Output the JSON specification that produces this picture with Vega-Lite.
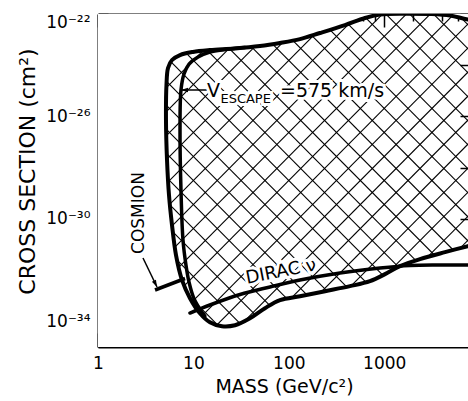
{
  "$schema": "https://vega.github.io/schema/vega-lite/v6.json",
  "width": 372,
  "height": 333,
  "autosize": {"type": "none"},
  "padding": {"left": 98, "top": 14, "right": 0, "bottom": 54},
  "background": "white",
  "config": {
    "view": {"stroke": null},
    "font": "DejaVu Sans",
    "axis": {"domainColor": "black", "domainWidth": 2, "tickColor": "black", "tickWidth": 1.5, "labelColor": "black", "titleColor": "black", "titleFontWeight": "normal", "grid": false, "zindex": 1, "labelOverlap": false, "labelBound": false, "labelFont": "DejaVu Sans", "titleFont": "DejaVu Sans"}
  },
  "resolve": {"axis": {"x": "independent", "y": "independent"}},
  "datasets": {
    "hatch": [
      {"m": 0.001, "m2": 10, "s": 1e-21, "s2": 1e-36},
      {"m": 0.0017783, "m2": 17.783, "s": 1e-21, "s2": 1e-36},
      {"m": 0.0031623, "m2": 31.623, "s": 1e-21, "s2": 1e-36},
      {"m": 0.0056234, "m2": 56.234, "s": 1e-21, "s2": 1e-36},
      {"m": 0.01, "m2": 100, "s": 1e-21, "s2": 1e-36},
      {"m": 0.017783, "m2": 177.83, "s": 1e-21, "s2": 1e-36},
      {"m": 0.031623, "m2": 316.23, "s": 1e-21, "s2": 1e-36},
      {"m": 0.056234, "m2": 562.34, "s": 1e-21, "s2": 1e-36},
      {"m": 0.1, "m2": 1000, "s": 1e-21, "s2": 1e-36},
      {"m": 0.17783, "m2": 1778.3, "s": 1e-21, "s2": 1e-36},
      {"m": 0.31623, "m2": 3162.3, "s": 1e-21, "s2": 1e-36},
      {"m": 0.56234, "m2": 5623.4, "s": 1e-21, "s2": 1e-36},
      {"m": 1, "m2": 10000, "s": 1e-21, "s2": 1e-36},
      {"m": 1.7783, "m2": 17783, "s": 1e-21, "s2": 1e-36},
      {"m": 3.1623, "m2": 31623, "s": 1e-21, "s2": 1e-36},
      {"m": 5.6234, "m2": 56234, "s": 1e-21, "s2": 1e-36},
      {"m": 10, "m2": 100000, "s": 1e-21, "s2": 1e-36},
      {"m": 17.783, "m2": 177830, "s": 1e-21, "s2": 1e-36},
      {"m": 31.623, "m2": 316230, "s": 1e-21, "s2": 1e-36},
      {"m": 56.234, "m2": 562340, "s": 1e-21, "s2": 1e-36},
      {"m": 100, "m2": 1000000, "s": 1e-21, "s2": 1e-36},
      {"m": 177.83, "m2": 1778300, "s": 1e-21, "s2": 1e-36},
      {"m": 316.23, "m2": 3162300, "s": 1e-21, "s2": 1e-36},
      {"m": 562.34, "m2": 5623400, "s": 1e-21, "s2": 1e-36},
      {"m": 1000, "m2": 10000000, "s": 1e-21, "s2": 1e-36},
      {"m": 1778.3, "m2": 17783000, "s": 1e-21, "s2": 1e-36},
      {"m": 3162.3, "m2": 31623000, "s": 1e-21, "s2": 1e-36},
      {"m": 0.001, "m2": 10, "s": 1e-36, "s2": 1e-21},
      {"m": 0.0017783, "m2": 17.783, "s": 1e-36, "s2": 1e-21},
      {"m": 0.0031623, "m2": 31.623, "s": 1e-36, "s2": 1e-21},
      {"m": 0.0056234, "m2": 56.234, "s": 1e-36, "s2": 1e-21},
      {"m": 0.01, "m2": 100, "s": 1e-36, "s2": 1e-21},
      {"m": 0.017783, "m2": 177.83, "s": 1e-36, "s2": 1e-21},
      {"m": 0.031623, "m2": 316.23, "s": 1e-36, "s2": 1e-21},
      {"m": 0.056234, "m2": 562.34, "s": 1e-36, "s2": 1e-21},
      {"m": 0.1, "m2": 1000, "s": 1e-36, "s2": 1e-21},
      {"m": 0.17783, "m2": 1778.3, "s": 1e-36, "s2": 1e-21},
      {"m": 0.31623, "m2": 3162.3, "s": 1e-36, "s2": 1e-21},
      {"m": 0.56234, "m2": 5623.4, "s": 1e-36, "s2": 1e-21},
      {"m": 1, "m2": 10000, "s": 1e-36, "s2": 1e-21},
      {"m": 1.7783, "m2": 17783, "s": 1e-36, "s2": 1e-21},
      {"m": 3.1623, "m2": 31623, "s": 1e-36, "s2": 1e-21},
      {"m": 5.6234, "m2": 56234, "s": 1e-36, "s2": 1e-21},
      {"m": 10, "m2": 100000, "s": 1e-36, "s2": 1e-21},
      {"m": 17.783, "m2": 177830, "s": 1e-36, "s2": 1e-21},
      {"m": 31.623, "m2": 316230, "s": 1e-36, "s2": 1e-21},
      {"m": 56.234, "m2": 562340, "s": 1e-36, "s2": 1e-21},
      {"m": 100, "m2": 1000000, "s": 1e-36, "s2": 1e-21},
      {"m": 177.83, "m2": 1778300, "s": 1e-36, "s2": 1e-21},
      {"m": 316.23, "m2": 3162300, "s": 1e-36, "s2": 1e-21},
      {"m": 562.34, "m2": 5623400, "s": 1e-36, "s2": 1e-21},
      {"m": 1000, "m2": 10000000, "s": 1e-36, "s2": 1e-21},
      {"m": 1778.3, "m2": 17783000, "s": 1e-36, "s2": 1e-21},
      {"m": 3162.3, "m2": 31623000, "s": 1e-36, "s2": 1e-21}
    ],
    "outline": [
      {"i": 0, "m": 100000, "s": 1e-10},
      {"i": 1, "m": 0.1, "s": 1e-10},
      {"i": 2, "m": 0.1, "s": 1e-40},
      {"i": 3, "m": 100000, "s": 1e-40},
      {"i": 4, "m": 14500, "s": 1.62e-31},
      {"i": 5, "m": 7550, "s": 8.66e-32},
      {"i": 6, "m": 4337, "s": 5.05e-32},
      {"i": 7, "m": 2372, "s": 2.69e-32},
      {"i": 8, "m": 1465, "s": 1.43e-32},
      {"i": 9, "m": 1020, "s": 6.98e-33},
      {"i": 10, "m": 710, "s": 3.7e-33},
      {"i": 11, "m": 438, "s": 2.37e-33},
      {"i": 12, "m": 240, "s": 1.51e-33},
      {"i": 13, "m": 131, "s": 9.6e-34},
      {"i": 14, "m": 80.9, "s": 6.76e-34},
      {"i": 15, "m": 56.3, "s": 3.28e-34},
      {"i": 16, "m": 39.2, "s": 1.32e-34},
      {"i": 17, "m": 27.3, "s": 7.1e-35},
      {"i": 18, "m": 19.9, "s": 6.5e-35},
      {"i": 19, "m": 14.9, "s": 9.3e-35},
      {"i": 20, "m": 11.7, "s": 2.09e-34},
      {"i": 21, "m": 9.21, "s": 8.05e-34},
      {"i": 22, "m": 7.6, "s": 4.07e-33},
      {"i": 23, "m": 6.57, "s": 3.85e-32},
      {"i": 24, "m": 5.97, "s": 5.7e-31},
      {"i": 25, "m": 5.55, "s": 8.5e-30},
      {"i": 26, "m": 5.29, "s": 2.0e-28},
      {"i": 27, "m": 5.16, "s": 7.2e-27},
      {"i": 28, "m": 5.22, "s": 1.69e-25},
      {"i": 29, "m": 5.42, "s": 7.8e-25},
      {"i": 30, "m": 5.97, "s": 1.6e-24},
      {"i": 31, "m": 7.24, "s": 2.5e-24},
      {"i": 32, "m": 9.9, "s": 3.3e-24},
      {"i": 33, "m": 14.9, "s": 3.9e-24},
      {"i": 34, "m": 27.3, "s": 4.5e-24},
      {"i": 35, "m": 49.9, "s": 5.6e-24},
      {"i": 36, "m": 80.9, "s": 7.4e-24},
      {"i": 37, "m": 131, "s": 1.05e-23},
      {"i": 38, "m": 212, "s": 1.81e-23},
      {"i": 39, "m": 388, "s": 3.7e-23},
      {"i": 40, "m": 629, "s": 7.0e-23},
      {"i": 41, "m": 904, "s": 9.5e-23},
      {"i": 42, "m": 1465, "s": 1.05e-22},
      {"i": 43, "m": 3020, "s": 1.0e-22},
      {"i": 44, "m": 4900, "s": 8.7e-23},
      {"i": 45, "m": 7550, "s": 6.1e-23},
      {"i": 46, "m": 14500, "s": 4.5e-23}
    ],
    "inner": [
      {"i": 0, "m": 34.8, "s": 4.9e-24},
      {"i": 1, "m": 21.4, "s": 4.1e-24},
      {"i": 2, "m": 14.9, "s": 3.28e-24},
      {"i": 3, "m": 11.2, "s": 2.09e-24},
      {"i": 4, "m": 9.0, "s": 1.11e-24},
      {"i": 5, "m": 7.97, "s": 4.53e-25},
      {"i": 6, "m": 7.41, "s": 1.07e-25},
      {"i": 7, "m": 7.24, "s": 2.95e-27},
      {"i": 8, "m": 7.41, "s": 1.33e-29},
      {"i": 9, "m": 7.78, "s": 1.48e-31},
      {"i": 10, "m": 8.36, "s": 1.57e-32},
      {"i": 11, "m": 9.0, "s": 3.39e-33},
      {"i": 12, "m": 10.1, "s": 8.05e-34},
      {"i": 13, "m": 11.7, "s": 3.0e-34},
      {"i": 14, "m": 13.2, "s": 1.6e-34}
    ],
    "dirac": [
      {"i": 0, "m": 9.21, "s": 2.12e-34},
      {"i": 1, "m": 14.9, "s": 4.36e-34},
      {"i": 2, "m": 30.8, "s": 1.12e-33},
      {"i": 3, "m": 63.5, "s": 2.2e-33},
      {"i": 4, "m": 131, "s": 4.12e-33},
      {"i": 5, "m": 344, "s": 7.74e-33},
      {"i": 6, "m": 904, "s": 1.21e-32},
      {"i": 7, "m": 1864, "s": 1.52e-32},
      {"i": 8, "m": 3846, "s": 1.59e-32},
      {"i": 9, "m": 16370, "s": 1.59e-32}
    ],
    "cosmion": [
      {"i": 0, "m": 3.96, "s": 1.68e-33},
      {"i": 1, "m": 8.17, "s": 4.72e-33}
    ],
    "arrows": [
      {"m": 2.963, "s": 2.98e-32, "m2": 4.154, "s2": 2.2e-33},
      {"m": 13.89, "s": 1.08e-25, "m2": 7.6, "s2": 1.08e-25}
    ]
  },
  "layer": [
    {
      "data": {"name": "hatch"},
      "mark": {"type": "rule", "clip": true, "color": "black", "strokeWidth": 1.1},
      "encoding": {
        "x": {"field": "m", "type": "quantitative", "scale": {"type": "log", "domain": [1, 7932], "nice": false},
          "axis": {"orient": "bottom", "values": [1, 10, 100, 1000], "tickSize": -14, "labelExpr": "format(datum.value, 'd')", "labelFontSize": 17, "labelPadding": 22, "labelFlush": false, "title": "MASS (GeV/c²)", "titleFontSize": 19, "titlePadding": 6}},
        "x2": {"field": "m2"},
        "y": {"field": "s", "type": "quantitative", "scale": {"type": "log", "domain": [1e-35, 1e-22], "nice": false},
          "axis": {"orient": "left", "values": [1e-34, 1e-32, 1e-30, 1e-28, 1e-26, 1e-24, 1e-22], "tickSize": -10, "labelExpr": "round(log(datum.value)/LN10) == -22 ? '10⁻²²' : round(log(datum.value)/LN10) == -26 ? '10⁻²⁶' : round(log(datum.value)/LN10) == -30 ? '10⁻³⁰' : round(log(datum.value)/LN10) == -34 ? '10⁻³⁴' : ''", "labelFontSize": 17, "labelPadding": 18, "labelFlush": true, "title": "CROSS SECTION (cm²)", "titleFontSize": 22, "titlePadding": 6, "titleY": 157}},
        "y2": {"field": "s2"}
      }
    },
    {
      "data": {"name": "outline"},
      "mark": {"type": "line", "clip": true, "fill": "white", "stroke": "black", "strokeWidth": 4, "interpolate": "catmull-rom", "strokeJoin": "round"},
      "encoding": {
        "x": {"field": "m", "type": "quantitative", "scale": {"type": "log", "domain": [1, 7932], "nice": false},
          "axis": {"orient": "bottom", "values": [2, 4, 6, 8, 20, 40, 60, 80, 200, 400, 600, 800, 2000, 4000, 6000], "tickSize": -7, "labels": false, "domain": false, "title": null}},
        "y": {"field": "s", "type": "quantitative", "scale": {"type": "log", "domain": [1e-35, 1e-22], "nice": false},
          "axis": {"orient": "right", "values": [1e-34, 1e-32, 1e-30, 1e-28, 1e-26, 1e-24, 1e-22], "tickSize": -10, "labels": false, "title": null}},
        "order": {"field": "i", "type": "quantitative"}
      }
    },
    {
      "data": {"name": "inner"},
      "mark": {"type": "line", "clip": true, "color": "black", "strokeWidth": 3.5, "interpolate": "catmull-rom", "strokeCap": "round"},
      "encoding": {
        "x": {"field": "m", "type": "quantitative", "scale": {"type": "log", "domain": [1, 7932], "nice": false},
          "axis": {"orient": "top", "values": [1, 10, 100, 1000], "tickSize": -13, "labels": false, "title": null}},
        "y": {"field": "s", "type": "quantitative", "scale": {"type": "log", "domain": [1e-35, 1e-22], "nice": false}, "axis": null},
        "order": {"field": "i", "type": "quantitative"}
      }
    },
    {
      "data": {"name": "dirac"},
      "mark": {"type": "line", "clip": true, "color": "black", "strokeWidth": 3.5, "interpolate": "catmull-rom", "strokeCap": "round"},
      "encoding": {
        "x": {"field": "m", "type": "quantitative", "scale": {"type": "log", "domain": [1, 7932], "nice": false},
          "axis": {"orient": "top", "values": [2, 4, 6, 8, 20, 40, 60, 80, 200, 400, 600, 800, 2000, 4000, 6000], "tickSize": -7, "labels": false, "domain": false, "title": null}},
        "y": {"field": "s", "type": "quantitative", "scale": {"type": "log", "domain": [1e-35, 1e-22], "nice": false}, "axis": null},
        "order": {"field": "i", "type": "quantitative"}
      }
    },
    {
      "data": {"name": "cosmion"},
      "mark": {"type": "line", "clip": true, "color": "black", "strokeWidth": 3.5},
      "encoding": {
        "x": {"field": "m", "type": "quantitative", "scale": {"type": "log", "domain": [1, 7932], "nice": false}, "axis": null},
        "y": {"field": "s", "type": "quantitative", "scale": {"type": "log", "domain": [1e-35, 1e-22], "nice": false}, "axis": null},
        "order": {"field": "i", "type": "quantitative"}
      }
    },
    {
      "data": {"name": "arrows"},
      "mark": {"type": "rule", "color": "black", "strokeWidth": 1.5},
      "encoding": {
        "x": {"field": "m", "type": "quantitative", "scale": {"type": "log", "domain": [1, 7932], "nice": false}, "axis": null},
        "x2": {"field": "m2"},
        "y": {"field": "s", "type": "quantitative", "scale": {"type": "log", "domain": [1e-35, 1e-22], "nice": false}, "axis": null},
        "y2": {"field": "s2"}
      }
    },
    {
      "data": {"values": [{"m": 4.154, "s": 2.2e-33}]},
      "mark": {"type": "point", "shape": "M0,0 L-0.45,-1.4 L0.45,-1.4 Z", "filled": true, "color": "black", "opacity": 1, "size": 100, "angle": -26},
      "encoding": {
        "x": {"field": "m", "type": "quantitative", "scale": {"type": "log", "domain": [1, 7932], "nice": false}, "axis": null},
        "y": {"field": "s", "type": "quantitative", "scale": {"type": "log", "domain": [1e-35, 1e-22], "nice": false}, "axis": null}
      }
    },
    {
      "data": {"values": [{"m": 7.41, "s": 1.08e-25}]},
      "mark": {"type": "point", "shape": "M0,0 L-0.45,-1.4 L0.45,-1.4 Z", "filled": true, "color": "black", "opacity": 1, "size": 100, "angle": 90},
      "encoding": {
        "x": {"field": "m", "type": "quantitative", "scale": {"type": "log", "domain": [1, 7932], "nice": false}, "axis": null},
        "y": {"field": "s", "type": "quantitative", "scale": {"type": "log", "domain": [1e-35, 1e-22], "nice": false}, "axis": null}
      }
    },
    {
      "data": {"values": [{"m": 13.89, "s": 5.75e-26, "t": "V"}, {"m": 80.9, "s": 5.75e-26, "t": "=575 km/s"}]},
      "mark": {"type": "text", "align": "left", "baseline": "alphabetic", "fontSize": 19, "color": "white", "stroke": "white", "strokeWidth": 6},
      "encoding": {
        "x": {"field": "m", "type": "quantitative", "scale": {"type": "log", "domain": [1, 7932], "nice": false}, "axis": null},
        "y": {"field": "s", "type": "quantitative", "scale": {"type": "log", "domain": [1e-35, 1e-22], "nice": false}, "axis": null},
        "text": {"field": "t"}
      }
    },
    {
      "data": {"values": [{"m": 19.2, "s": 3.36e-26, "t": "ESCAPE"}]},
      "mark": {"type": "text", "align": "left", "baseline": "alphabetic", "fontSize": 13, "color": "white", "stroke": "white", "strokeWidth": 6},
      "encoding": {
        "x": {"field": "m", "type": "quantitative", "scale": {"type": "log", "domain": [1, 7932], "nice": false}, "axis": null},
        "y": {"field": "s", "type": "quantitative", "scale": {"type": "log", "domain": [1e-35, 1e-22], "nice": false}, "axis": null},
        "text": {"field": "t"}
      }
    },
    {
      "data": {"values": [{"m": 82.8, "s": 8.47e-33, "t": "DIRAC ν"}]},
      "mark": {"type": "text", "align": "center", "baseline": "middle", "fontSize": 18, "angle": -11, "color": "white", "stroke": "white", "strokeWidth": 6},
      "encoding": {
        "x": {"field": "m", "type": "quantitative", "scale": {"type": "log", "domain": [1, 7932], "nice": false}, "axis": null},
        "y": {"field": "s", "type": "quantitative", "scale": {"type": "log", "domain": [1e-35, 1e-22], "nice": false}, "axis": null},
        "text": {"field": "t"}
      }
    },
    {
      "data": {"values": [{"m": 13.89, "s": 5.75e-26, "t": "V"}, {"m": 80.9, "s": 5.75e-26, "t": "=575 km/s"}]},
      "mark": {"type": "text", "align": "left", "baseline": "alphabetic", "fontSize": 19, "color": "black"},
      "encoding": {
        "x": {"field": "m", "type": "quantitative", "scale": {"type": "log", "domain": [1, 7932], "nice": false}, "axis": null},
        "y": {"field": "s", "type": "quantitative", "scale": {"type": "log", "domain": [1e-35, 1e-22], "nice": false}, "axis": null},
        "text": {"field": "t"}
      }
    },
    {
      "data": {"values": [{"m": 19.2, "s": 3.36e-26, "t": "ESCAPE"}]},
      "mark": {"type": "text", "align": "left", "baseline": "alphabetic", "fontSize": 13, "color": "black"},
      "encoding": {
        "x": {"field": "m", "type": "quantitative", "scale": {"type": "log", "domain": [1, 7932], "nice": false}, "axis": null},
        "y": {"field": "s", "type": "quantitative", "scale": {"type": "log", "domain": [1e-35, 1e-22], "nice": false}, "axis": null},
        "text": {"field": "t"}
      }
    },
    {
      "data": {"values": [{"m": 82.8, "s": 8.47e-33, "t": "DIRAC ν"}]},
      "mark": {"type": "text", "align": "center", "baseline": "middle", "fontSize": 18, "angle": -11, "color": "black"},
      "encoding": {
        "x": {"field": "m", "type": "quantitative", "scale": {"type": "log", "domain": [1, 7932], "nice": false}, "axis": null},
        "y": {"field": "s", "type": "quantitative", "scale": {"type": "log", "domain": [1e-35, 1e-22], "nice": false}, "axis": null},
        "text": {"field": "t"}
      }
    },
    {
      "data": {"values": [{"m": 2.69, "s": 1.7e-30, "t": "COSMION"}]},
      "mark": {"type": "text", "align": "center", "baseline": "middle", "fontSize": 17, "angle": -90, "color": "black"},
      "encoding": {
        "x": {"field": "m", "type": "quantitative", "scale": {"type": "log", "domain": [1, 7932], "nice": false}, "axis": null},
        "y": {"field": "s", "type": "quantitative", "scale": {"type": "log", "domain": [1e-35, 1e-22], "nice": false}, "axis": null},
        "text": {"field": "t"}
      }
    }
  ]
}
